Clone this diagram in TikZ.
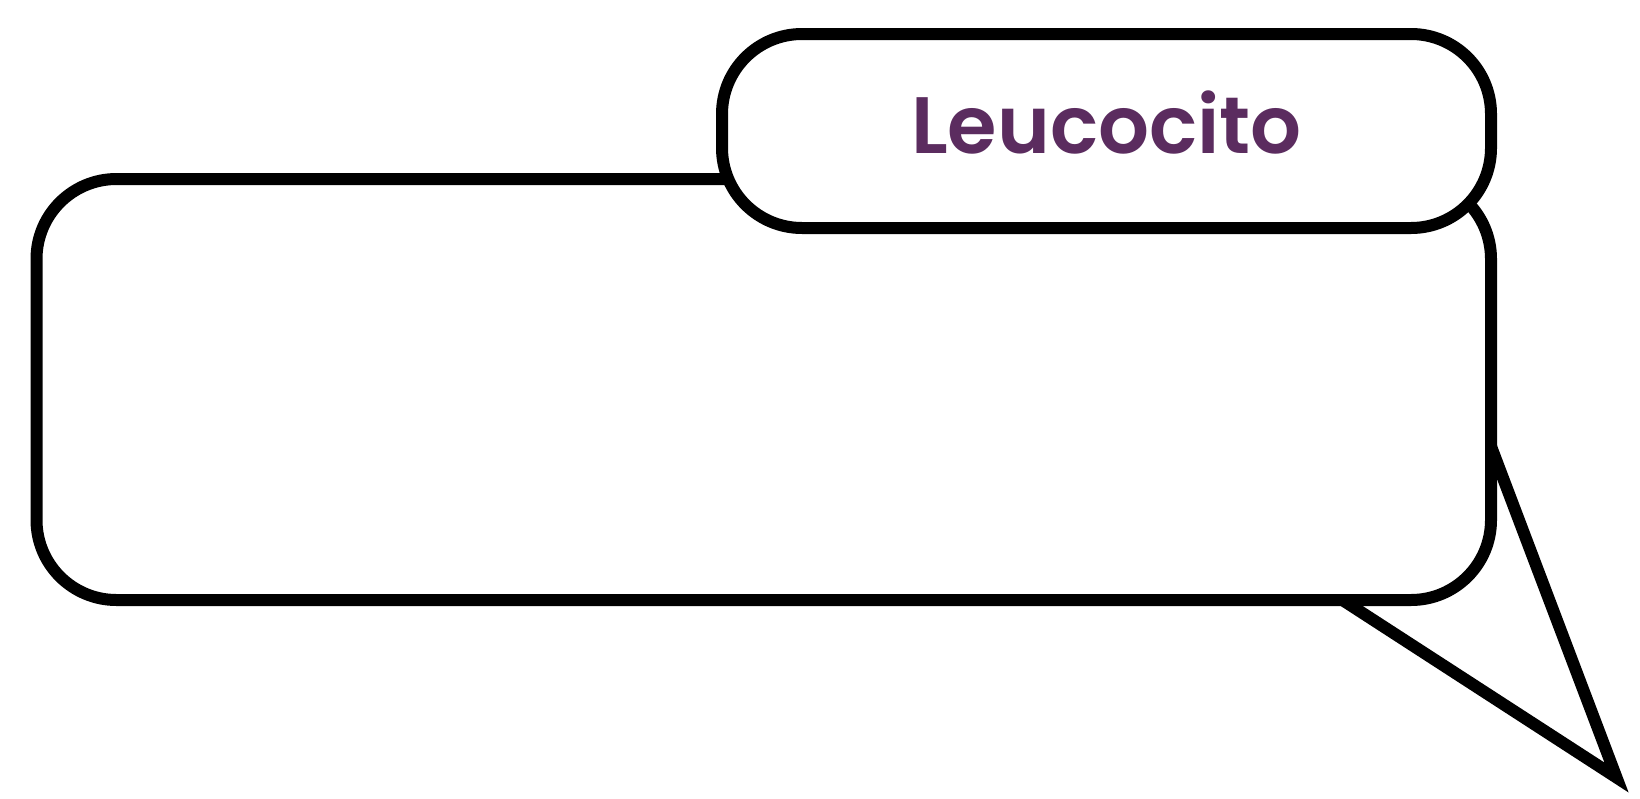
\documentclass[tikz,border=0pt]{standalone}
\usepackage{fontspec}
\setmainfont{Poppins}[BoldFont={Poppins SemiBold}]
\usepackage{tikz}
\definecolor{leucopurple}{HTML}{5B2C5F}

\begin{document}
\begin{tikzpicture}[
    x=1pt, y=-1pt,
    every node/.style={draw=black, line width=12pt, fill=white, rounded corners=80pt, inner sep=0pt},
    bubble/.style={minimum width=1454.5pt, minimum height=421pt},
    titlebox/.style={minimum width=769pt, minimum height=194pt,
        font=\fontsize{80}{80}\selectfont\bfseries, text=leucopurple, text depth=18pt}
]
\useasboundingbox (0,0) rectangle (1640,798);
% tail of the bubble
\coordinate (tip) at (1616.5,777.5);
\filldraw[fill=white, line width=12pt, miter limit=10] (1327,590) -- (tip) -- (1481,420) -- cycle;
\node[bubble] (body) at (763.75,389.5) {};
\node[titlebox] (title) at (1106.5,131) {Leucocito};
\end{tikzpicture}
\end{document}
